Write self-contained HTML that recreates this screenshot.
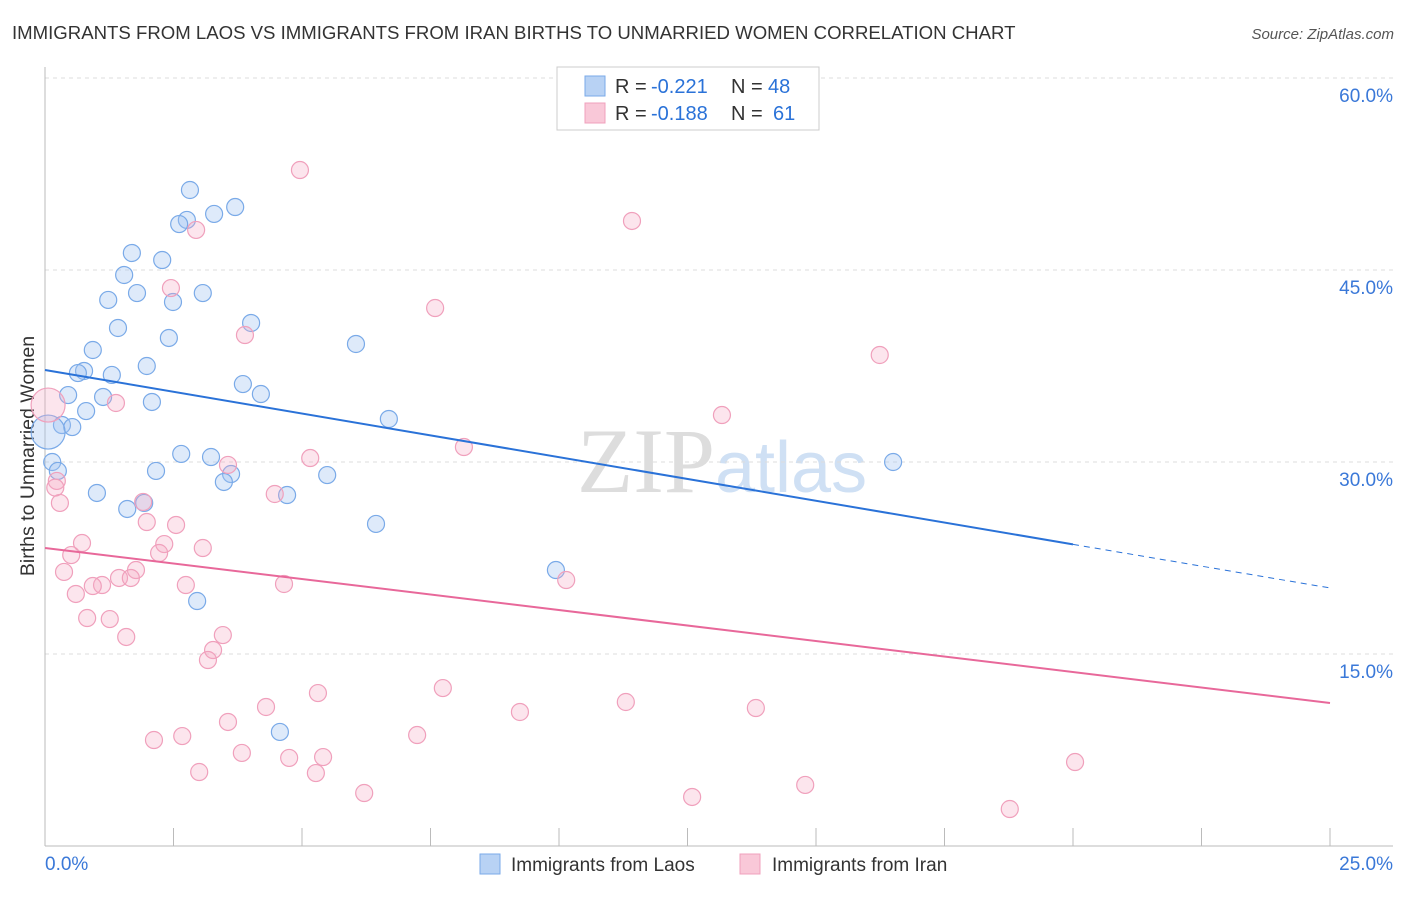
<!DOCTYPE html>
<html><head><meta charset="utf-8"><style>
body{margin:0;background:#fff;font-family:"Liberation Sans",sans-serif}
</style></head><body>
<svg id="chart" width="1406" height="892" font-family="Liberation Sans, sans-serif">
<text x="12" y="39" font-size="18.6" fill="#333">IMMIGRANTS FROM LAOS VS IMMIGRANTS FROM IRAN BIRTHS TO UNMARRIED WOMEN CORRELATION CHART</text>
<text x="1394" y="39" font-size="15" fill="#555" font-style="italic" text-anchor="end">Source: ZipAtlas.com</text>
<text x="34" y="456" font-size="19.5" fill="#333" text-anchor="middle" transform="rotate(-90 34 456)">Births to Unmarried Women</text>
<text x="715" y="492" font-size="92" fill="#ddd" text-anchor="end" font-family="Liberation Serif, serif">ZIP</text>
<text x="715" y="492" font-size="72" fill="#cfe0f4">atlas</text>
<g id="grid"></g><g id="axes"></g><g id="pts"></g><g id="lines"></g>
<g>
<rect x="557" y="67" width="262" height="63" fill="#fff" stroke="#ccc"/>
<rect x="585" y="76" width="20" height="20" fill="#b8d2f4" stroke="#7aaae8"/>
<rect x="585" y="103" width="20" height="20" fill="#f9c8d8" stroke="#f0a0bc"/>
<text y="93" font-size="20" fill="#333"><tspan x="615">R =</tspan><tspan x="651" fill="#2a72d8">-0.221</tspan><tspan x="731">N =</tspan><tspan x="768" fill="#2a72d8">48</tspan></text>
<text y="120" font-size="20" fill="#333"><tspan x="615">R =</tspan><tspan x="651" fill="#2a72d8">-0.188</tspan><tspan x="731">N =</tspan><tspan x="773" fill="#2a72d8">61</tspan></text>
</g>
<g>
<rect x="480" y="854" width="20" height="20" fill="#b8d2f4" stroke="#7aaae8"/>
<text x="511" y="871" font-size="19" fill="#333">Immigrants from Laos</text>
<rect x="740" y="854" width="20" height="20" fill="#f9c8d8" stroke="#f0a0bc"/>
<text x="772" y="871" font-size="19" fill="#333">Immigrants from Iran</text>
</g>
</svg>
<script>
const laosX=[2.82,3.70,3.29,2.76,2.61,1.69,2.28,1.54,1.23,1.79,3.07,2.49,4.01,1.42,2.41,6.05,0.93,1.98,0.76,0.64,1.30,3.85,4.20,0.45,1.13,2.08,0.80,6.69,0.33,0.53,0.06,2.65,3.23,16.50,0.14,0.25,2.16,3.62,5.49,3.48,1.01,4.71,1.93,1.60,6.44,9.94,2.96,4.57];
const laosY=[51.25,49.92,49.38,48.91,48.59,46.33,45.78,44.61,42.66,43.20,43.20,42.50,40.86,40.47,39.69,39.22,38.75,37.50,37.11,36.95,36.80,36.09,35.31,35.23,35.08,34.69,33.98,33.36,32.89,32.73,32.34,30.63,30.39,30.00,30.00,29.30,29.30,29.06,28.98,28.44,27.58,27.42,26.80,26.33,25.16,21.56,19.14,8.91];
const iranX=[4.96,11.42,2.94,2.45,7.59,3.89,16.24,0.06,1.38,13.17,8.15,5.16,3.56,0.23,4.47,1.91,0.29,1.98,2.55,0.72,2.32,3.07,0.51,2.22,0.37,1.77,10.14,1.44,1.67,1.11,2.74,0.93,4.65,0.60,0.82,1.26,3.46,1.58,3.27,3.17,7.74,5.31,11.30,4.30,13.83,9.24,3.56,7.24,2.67,2.12,3.83,4.75,5.41,3.00,5.27,20.04,14.79,6.21,12.59,18.77,0.20];
const iranY=[52.81,48.83,48.13,43.59,42.03,39.92,38.36,34.45,34.61,33.67,31.17,30.31,29.77,28.52,27.50,26.88,26.80,25.31,25.08,23.67,23.59,23.28,22.73,22.89,21.41,21.56,20.78,20.94,20.94,20.39,20.39,20.31,20.47,19.69,17.81,17.73,16.48,16.33,15.31,14.53,12.34,11.95,11.25,10.86,10.78,10.47,9.69,8.67,8.59,8.28,7.27,6.88,6.95,5.78,5.70,6.56,4.77,4.14,3.83,2.89,28.0];
const laosBig=30, iranBig=7;
const yTicks=[15,30,45,60];
const yTickLabels=["15.0%","30.0%","45.0%","60.0%"];
const xTicks=[0,2.5,5,7.5,10,12.5,15,17.5,20,22.5,25];
const laosTrend=[37.19,20.16], iranTrend=[23.28,11.17], trendSolidEnd=20;
const X=v=>45+v/25*1285, Y=v=>846-v/15*192;
const NS="http://www.w3.org/2000/svg";
function mk(tag,attrs,parent){const e=document.createElementNS(NS,tag);for(const k in attrs)e.setAttribute(k,attrs[k]);document.getElementById(parent).appendChild(e);return e;}
yTicks.forEach((t,i)=>{
 const g=mk('line',{x1:45,x2:1393,y1:Y(t),y2:Y(t),stroke:'#ddd','stroke-dasharray':'4,4'},'grid');
 
 
 const l=mk('text',{x:1393,y:Y(t)+24,'font-size':19,fill:'#3a78d8','text-anchor':'end'},'axes');
 l.textContent=yTickLabels[i];
 
 
});
const ax=mk('line',{x1:45,x2:1393,y1:846,y2:846,stroke:'#bbb'},'axes');


const ay=mk('line',{x1:45,x2:45,y1:67,y2:846,stroke:'#bbb'},'axes');


xTicks.forEach(t=>{const e=mk('line',{x1:X(t),x2:X(t),y1:828,y2:846,stroke:'#bbb'},'axes');
 
 });
[["0.0%",45,"start"],["25.0%",1393,"end"]].forEach(a=>{const e=mk('text',{x:a[1],y:870,'font-size':19,fill:'#3a78d8','text-anchor':a[2]},'axes');e.textContent=a[0];
 
 });
function pts(xs,ys,big,fill,stroke,name){xs.forEach((x,i)=>{const c=mk('circle',{cx:X(x),cy:Y(ys[i]),r:i===big?17:8.5,fill:fill,stroke:stroke,'stroke-width':1.2},'pts');
 
 });}
pts(laosX,laosY,laosBig,'rgba(160,196,240,0.35)','#7aaae8','laos-point');
pts(iranX,iranY,iranBig,'rgba(245,170,195,0.3)','#f0a0bc','iran-point');
const lv=t=>laosTrend[0]+(laosTrend[1]-laosTrend[0])*t/25;
const l1=mk('line',{x1:X(0),y1:Y(lv(0)),x2:X(trendSolidEnd),y2:Y(lv(trendSolidEnd)),stroke:'#2a72d8','stroke-width':2},'lines');


const l2=mk('line',{x1:X(trendSolidEnd),y1:Y(lv(trendSolidEnd)),x2:X(25),y2:Y(lv(25)),stroke:'#2a72d8','stroke-width':1,'stroke-dasharray':'6,5'},'lines');


const l3=mk('line',{x1:X(0),y1:Y(iranTrend[0]),x2:X(25),y2:Y(iranTrend[1]),stroke:'#e8689a','stroke-width':2},'lines');


</script>
</body></html>
